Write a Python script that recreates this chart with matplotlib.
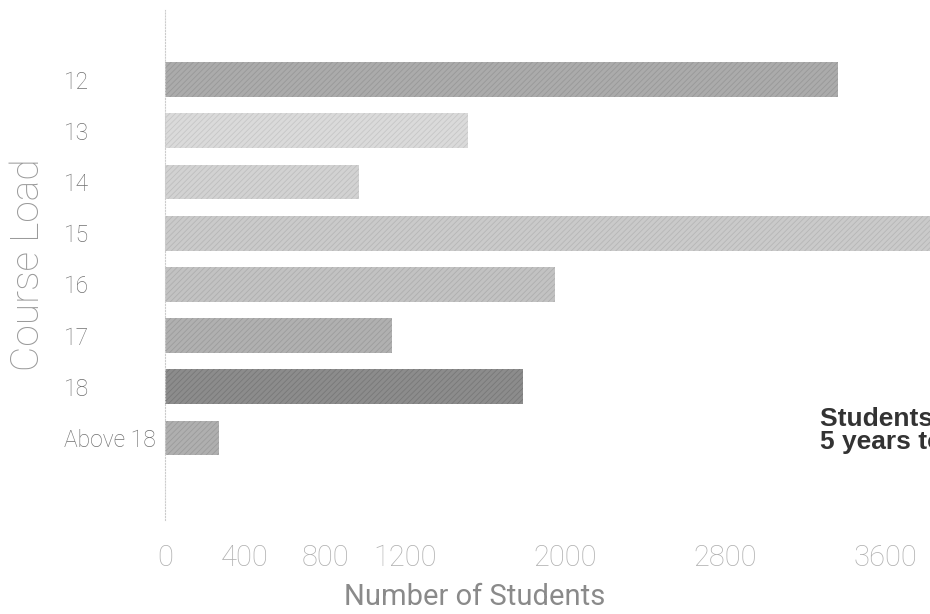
import matplotlib
matplotlib.use("Agg")
import matplotlib.pyplot as plt

# course load categories, top to bottom
course_loads = ["12", "13", "14", "15", "16", "17", "18", "Above 18"]
students = [3365, 1515, 970, 4000, 1950, 1135, 1790, 270]
bar_colours = ["#ababab", "#dadada", "#d2d2d2", "#cacaca",
               "#c2c2c2", "#b0b0b0", "#8c8c8c", "#afafaf"]
hatch_colours = ["#989898", "#c6c6c6", "#bebebe", "#b6b6b6",
                 "#aeaeae", "#9c9c9c", "#787878", "#9b9b9b"]
x_ticks = [0, 400, 800, 1200, 2000, 2800, 3600]
note_text = "Students taking\n5 years to graduate"

plt.rcParams["hatch.linewidth"] = 0.6

fig = plt.figure(figsize=(9.3, 6.14), dpi=100)
# axes runs past the right edge of the figure (chart is cropped there)
ax = fig.add_axes([165 / 930, 94 / 614, 880 / 930, 510 / 614])

positions = list(range(len(course_loads)))
for pos, val, fc, hc in zip(positions, students, bar_colours, hatch_colours):
    ax.barh(pos, val, height=0.68, color=fc, edgecolor=hc,
            hatch="//////", linewidth=0)

ax.set_xlim(0, 4400)
ax.set_ylim(8.6, -1.36)

ax.set_yticks(positions)
ax.set_yticklabels(course_loads, fontsize=16.5, color="#707070",
                   ha="left", family="Roboto", fontweight="light")
ax.tick_params(axis="y", length=0, pad=73)

ax.set_xticks(x_ticks)
ax.set_xticklabels([str(t) for t in x_ticks], fontsize=21, color="#b0b0b0",
                   family="Roboto", fontweight="light")
ax.tick_params(axis="x", length=0, pad=17)

for side in ["top", "right", "bottom"]:
    ax.spines[side].set_visible(False)
ax.spines["left"].set_color("#cccccc")
ax.spines["left"].set_linestyle(":")
ax.spines["left"].set_linewidth(0.8)

fig.text(475 / 930, 1 - 597 / 614, "Number of Students", fontsize=21,
         color="#8a8a8a", family="Roboto", ha="center", va="center")
fig.text(28 / 930, 1 - 265 / 614, "Course Load", rotation=90, fontsize=28,
         color="#9a9a9a", family="Roboto", fontweight="light",
         ha="center", va="center")

ax.text(3275, 6.85, note_text, fontsize=19, color="#333333",
        family="Liberation Sans", fontweight="bold", va="center", ha="left",
        linespacing=0.92, clip_on=False)

fig.savefig("out.png", dpi=100)
